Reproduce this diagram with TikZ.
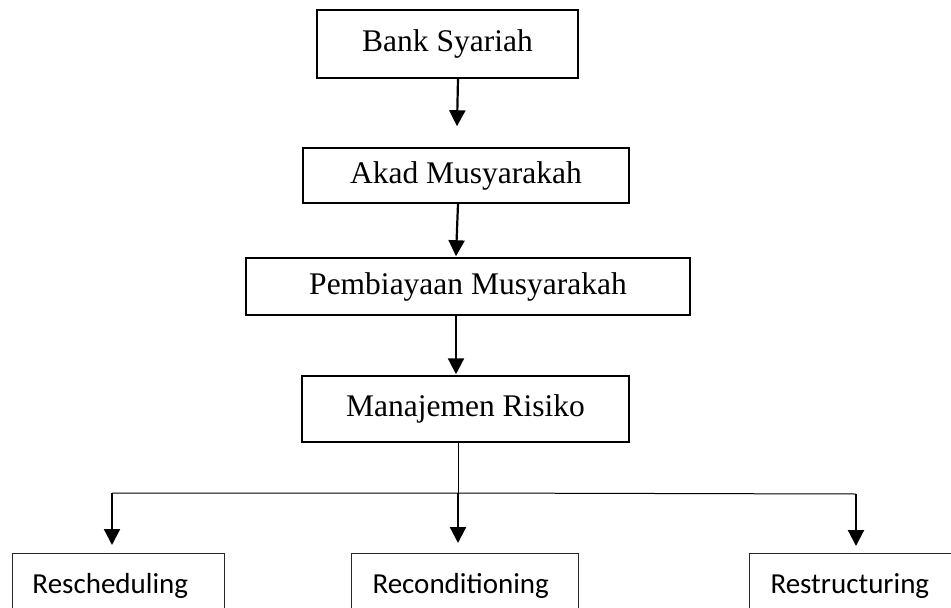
\documentclass[tikz,border=0pt]{standalone}
\usepackage{fontspec}
\setmainfont{Liberation Serif}
\newfontfamily\calfont{Carlito}
\usetikzlibrary{arrows.meta}
\tikzset{
  topbox/.style={draw=black, line width=1.5pt, rectangle, inner sep=0pt,
    font=\fontsize{31.5pt}{36pt}\selectfont},
  botbox/.style={draw=black!85, line width=1pt, rectangle, inner sep=0pt,
    minimum height=64pt, font=\calfont\fontsize{29pt}{34pt}\selectfont},
  arr/.style={line width=2.2pt, -{Triangle[width=16pt,length=16pt]}},
  thinline/.style={line width=1pt}
}
\begin{document}
\begin{tikzpicture}[x=1pt,y=-1pt]
\useasboundingbox (0,0) rectangle (951,608);
\clip (0,0) rectangle (951,608);
\node[topbox, minimum width=261pt, minimum height=68pt] (bank) at (447.5,44) {Bank Syariah};
\node[topbox, minimum width=326pt, minimum height=55pt] (akad) at (466,175.5) {Akad Musyarakah};
\node[topbox, minimum width=444pt, minimum height=57pt] (pemb) at (468,286.5) {Pembiayaan Musyarakah};
\node[topbox, minimum width=327pt, minimum height=66pt] (manaj) at (465.5,409) {Manajemen Risiko};
\node[botbox, anchor=north west] (resch) at (12,553) {\makebox[212pt][l]{\hspace{20pt}\vphantom{hdg}Rescheduling}};
\node[botbox, anchor=north west] (recon) at (351,553) {\makebox[227pt][l]{\hspace{21pt}\vphantom{hdg}Reconditioning}};
\node[botbox, anchor=north west] (restr) at (749,553) {\makebox[221pt][l]{\hspace{21pt}\vphantom{hdg}Restructuring}};
\coordinate (j) at (458,493);
\coordinate (bl) at (112,493);
\coordinate (br) at (856,494);
\draw[arr] ([xshift=10.5pt]bank.south) -- ([xshift=-9pt,yshift=21pt]akad.north);
\draw[arr] ([xshift=-8pt]akad.south) -- ([xshift=-12pt,yshift=1pt]pemb.north);
\draw[arr] ([xshift=-12pt]pemb.south) -- ([xshift=-9.5pt,yshift=1pt]manaj.north);
\draw[thinline] ([xshift=-7.5pt]manaj.south) -- (j);
\draw[thinline] (bl) -- (j) -- (br);
\draw[arr] (bl) -- ([yshift=8pt]bl |- resch.north);
\draw[arr] (j) -- ([yshift=10pt]j |- recon.north);
\draw[arr] (br) -- ([yshift=7pt]br |- restr.north);
\end{tikzpicture}
\end{document}
